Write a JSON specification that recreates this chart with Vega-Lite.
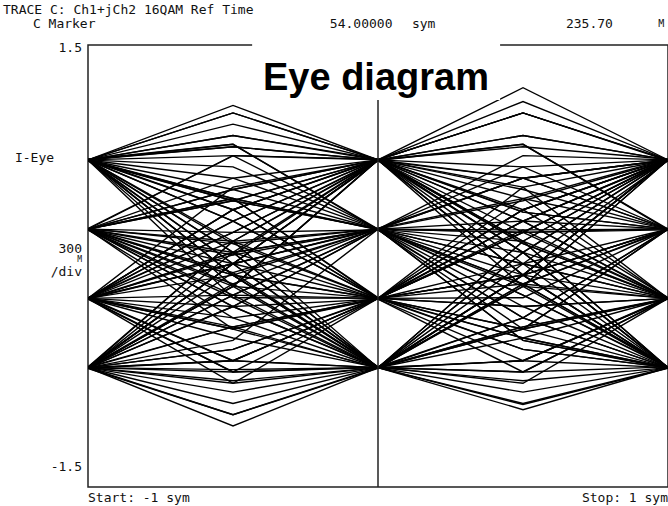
{
  "$schema": "https://vega.github.io/schema/vega-lite/v6.json",
  "width": 580,
  "height": 442,
  "autosize": {"type": "none"},
  "padding": {"left": 88, "top": 45, "right": 0, "bottom": 19},
  "background": "white",
  "config": {"view": {"stroke": "#222", "strokeWidth": 1.5}},
  "datasets": {
    "traces": [
      {"t":1,"x":-1,"y":0.72},{"t":1,"x":-0.5,"y":0.963},{"t":1,"x":0,"y":0.72},{"t":1,"x":0.5,"y":-0.062},{"t":1,"x":1,"y":-0.69},
      {"t":2,"x":-1,"y":0.725},{"t":2,"x":-0.5,"y":0.382},{"t":2,"x":0,"y":-0.22},{"t":2,"x":0.5,"y":-0.215},{"t":2,"x":1,"y":0.25},
      {"t":3,"x":-1,"y":-0.215},{"t":3,"x":-0.5,"y":0.228},{"t":3,"x":0,"y":0.72},{"t":3,"x":0.5,"y":1.039},{"t":3,"x":1,"y":0.715},
      {"t":4,"x":-1,"y":-0.69},{"t":4,"x":-0.5,"y":-1.009},{"t":4,"x":0,"y":-0.695},{"t":4,"x":0.5,"y":-0.122},{"t":4,"x":1,"y":0.25},
      {"t":5,"x":-1,"y":0.25},{"t":5,"x":-0.5,"y":0.092},{"t":5,"x":0,"y":-0.225},{"t":5,"x":0.5,"y":-0.719},{"t":5,"x":1,"y":-0.685},
      {"t":6,"x":-1,"y":-0.22},{"t":6,"x":-0.5,"y":0.015},{"t":6,"x":0,"y":0.255},{"t":6,"x":0.5,"y":0.596},{"t":6,"x":1,"y":0.72},
      {"t":7,"x":-1,"y":0.245},{"t":7,"x":-0.5,"y":-0.352},{"t":7,"x":0,"y":-0.69},{"t":7,"x":0.5,"y":-0.489},{"t":7,"x":1,"y":-0.22},
      {"t":8,"x":-1,"y":0.72},{"t":8,"x":-0.5,"y":0.749},{"t":8,"x":0,"y":0.25},{"t":8,"x":0.5,"y":-0.505},{"t":8,"x":1,"y":-0.695},
      {"t":9,"x":-1,"y":-0.685},{"t":9,"x":-0.5,"y":0.015},{"t":9,"x":0,"y":0.72},{"t":9,"x":0.5,"y":0.382},{"t":9,"x":1,"y":-0.215},
      {"t":10,"x":-1,"y":-0.69},{"t":10,"x":-0.5,"y":-0.566},{"t":10,"x":0,"y":-0.22},{"t":10,"x":0.5,"y":0.458},{"t":10,"x":1,"y":0.725},
      {"t":11,"x":-1,"y":-0.22},{"t":11,"x":-0.5,"y":-0.719},{"t":11,"x":0,"y":-0.685},{"t":11,"x":0.5,"y":-0.352},{"t":11,"x":1,"y":0.25},
      {"t":12,"x":-1,"y":0.255},{"t":12,"x":-0.5,"y":0.749},{"t":12,"x":0,"y":0.725},{"t":12,"x":0.5,"y":0.092},{"t":12,"x":1,"y":-0.69},
      {"t":13,"x":-1,"y":-0.69},{"t":13,"x":-0.5,"y":-0.275},{"t":13,"x":0,"y":0.25},{"t":13,"x":0.5,"y":0.015},{"t":13,"x":1,"y":-0.22},
      {"t":14,"x":-1,"y":0.715},{"t":14,"x":-0.5,"y":0.015},{"t":14,"x":0,"y":-0.69},{"t":14,"x":0.5,"y":-0.975},{"t":14,"x":1,"y":-0.69},
      {"t":15,"x":-1,"y":0.25},{"t":15,"x":-0.5,"y":0.749},{"t":15,"x":0,"y":0.72},{"t":15,"x":0.5,"y":0.305},{"t":15,"x":1,"y":-0.225},
      {"t":16,"x":-1,"y":-0.695},{"t":16,"x":-0.5,"y":-0.643},{"t":16,"x":0,"y":-0.22},{"t":16,"x":0.5,"y":0.535},{"t":16,"x":1,"y":0.72},
      {"t":17,"x":-1,"y":0.25},{"t":17,"x":-0.5,"y":0.228},{"t":17,"x":0,"y":0.245},{"t":17,"x":0.5,"y":-0.138},{"t":17,"x":1,"y":-0.22},
      {"t":18,"x":-1,"y":-0.225},{"t":18,"x":-0.5,"y":-0.719},{"t":18,"x":0,"y":-0.69},{"t":18,"x":0.5,"y":-0.062},{"t":18,"x":1,"y":0.72},
      {"t":19,"x":-1,"y":0.72},{"t":19,"x":-0.5,"y":0.673},{"t":19,"x":0,"y":0.25},{"t":19,"x":0.5,"y":0.228},{"t":19,"x":1,"y":0.255},
      {"t":20,"x":-1,"y":-0.69},{"t":20,"x":-0.5,"y":0.168},{"t":20,"x":0,"y":0.715},{"t":20,"x":0.5,"y":0.092},{"t":20,"x":1,"y":-0.69},
      {"t":21,"x":-1,"y":-0.22},{"t":21,"x":-0.5,"y":0.015},{"t":21,"x":0,"y":0.25},{"t":21,"x":0.5,"y":-0.122},{"t":21,"x":1,"y":-0.685},
      {"t":22,"x":-1,"y":0.72},{"t":22,"x":-0.5,"y":-0.062},{"t":22,"x":0,"y":-0.69},{"t":22,"x":0.5,"y":-0.352},{"t":22,"x":1,"y":0.25},
      {"t":23,"x":-1,"y":-0.215},{"t":23,"x":-0.5,"y":-0.413},{"t":23,"x":0,"y":-0.695},{"t":23,"x":0.5,"y":-0.643},{"t":23,"x":1,"y":-0.22},
      {"t":24,"x":-1,"y":0.25},{"t":24,"x":-0.5,"y":-0.062},{"t":24,"x":0,"y":-0.22},{"t":24,"x":0.5,"y":0.228},{"t":24,"x":1,"y":0.72},
      {"t":25,"x":-1,"y":-0.69},{"t":25,"x":-0.5,"y":-0.138},{"t":25,"x":0,"y":0.72},{"t":25,"x":0.5,"y":0.826},{"t":25,"x":1,"y":0.245},
      {"t":26,"x":-1,"y":-0.22},{"t":26,"x":-0.5,"y":0.382},{"t":26,"x":0,"y":0.725},{"t":26,"x":0.5,"y":0.092},{"t":26,"x":1,"y":-0.69},
      {"t":27,"x":-1,"y":0.72},{"t":27,"x":-0.5,"y":0.015},{"t":27,"x":0,"y":-0.685},{"t":27,"x":0.5,"y":-0.138},{"t":27,"x":1,"y":0.72},
      {"t":28,"x":-1,"y":-0.69},{"t":28,"x":-0.5,"y":-0.198},{"t":28,"x":0,"y":0.25},{"t":28,"x":0.5,"y":0.245},{"t":28,"x":1,"y":-0.22},
      {"t":29,"x":-1,"y":0.725},{"t":29,"x":-0.5,"y":0.809},{"t":29,"x":0,"y":0.72},{"t":29,"x":0.5,"y":0.152},{"t":29,"x":1,"y":-0.22},
      {"t":30,"x":-1,"y":0.25},{"t":30,"x":-0.5,"y":-0.428},{"t":30,"x":0,"y":-0.69},{"t":30,"x":0.5,"y":0.015},{"t":30,"x":1,"y":0.715},
      {"t":31,"x":-1,"y":-0.22},{"t":31,"x":-0.5,"y":0.382},{"t":31,"x":0,"y":0.72},{"t":31,"x":0.5,"y":0.519},{"t":31,"x":1,"y":0.25},
      {"t":32,"x":-1,"y":0.715},{"t":32,"x":-0.5,"y":0.458},{"t":32,"x":0,"y":-0.215},{"t":32,"x":0.5,"y":-0.566},{"t":32,"x":1,"y":-0.69},
      {"t":33,"x":-1,"y":-0.69},{"t":33,"x":-0.5,"y":-0.505},{"t":33,"x":0,"y":0.25},{"t":33,"x":0.5,"y":0.749},{"t":33,"x":1,"y":0.72},
      {"t":34,"x":-1,"y":0.72},{"t":34,"x":-0.5,"y":0.305},{"t":34,"x":0,"y":-0.22},{"t":34,"x":0.5,"y":-0.428},{"t":34,"x":1,"y":-0.225},
      {"t":35,"x":-1,"y":0.25},{"t":35,"x":-0.5,"y":-0.045},{"t":35,"x":0,"y":-0.69},{"t":35,"x":0.5,"y":-0.94},{"t":35,"x":1,"y":-0.695},
      {"t":36,"x":-1,"y":-0.225},{"t":36,"x":-0.5,"y":0.015},{"t":36,"x":0,"y":0.255},{"t":36,"x":0.5,"y":0.458},{"t":36,"x":1,"y":0.25},
      {"t":37,"x":-1,"y":-0.22},{"t":37,"x":-0.5,"y":0.305},{"t":37,"x":0,"y":0.72},{"t":37,"x":0.5,"y":0.015},{"t":37,"x":1,"y":-0.69},
      {"t":38,"x":-1,"y":-0.69},{"t":38,"x":-0.5,"y":-0.719},{"t":38,"x":0,"y":-0.22},{"t":38,"x":0.5,"y":0.305},{"t":38,"x":1,"y":0.72},
      {"t":39,"x":-1,"y":0.72},{"t":39,"x":-0.5,"y":0.826},{"t":39,"x":0,"y":0.245},{"t":39,"x":0.5,"y":-0.352},{"t":39,"x":1,"y":-0.69},
      {"t":40,"x":-1,"y":0.25},{"t":40,"x":-0.5,"y":-0.275},{"t":40,"x":0,"y":-0.69},{"t":40,"x":0.5,"y":-0.428},{"t":40,"x":1,"y":0.25},
      {"t":41,"x":-1,"y":0.245},{"t":41,"x":-0.5,"y":-0.215},{"t":41,"x":0,"y":-0.22},{"t":41,"x":0.5,"y":0.382},{"t":41,"x":1,"y":0.72},
      {"t":42,"x":-1,"y":-0.22},{"t":42,"x":-0.5,"y":0.228},{"t":42,"x":0,"y":0.715},{"t":42,"x":0.5,"y":0.596},{"t":42,"x":1,"y":0.25},
      {"t":43,"x":-1,"y":-0.685},{"t":43,"x":-0.5,"y":0.168},{"t":43,"x":0,"y":0.72},{"t":43,"x":0.5,"y":0.535},{"t":43,"x":1,"y":-0.22},
      {"t":44,"x":-1,"y":0.72},{"t":44,"x":-0.5,"y":-0.062},{"t":44,"x":0,"y":-0.69},{"t":44,"x":0.5,"y":-0.062},{"t":44,"x":1,"y":0.725},
      {"t":45,"x":-1,"y":-0.22},{"t":45,"x":-0.5,"y":-0.275},{"t":45,"x":0,"y":-0.225},{"t":45,"x":0.5,"y":-0.643},{"t":45,"x":1,"y":-0.69},
      {"t":46,"x":-1,"y":0.25},{"t":46,"x":-0.5,"y":0.443},{"t":46,"x":0,"y":0.72},{"t":46,"x":0.5,"y":0.886},{"t":46,"x":1,"y":0.72},
      {"t":47,"x":-1,"y":-0.69},{"t":47,"x":-0.5,"y":-0.045},{"t":47,"x":0,"y":0.25},{"t":47,"x":0.5,"y":-0.198},{"t":47,"x":1,"y":-0.685},
      {"t":48,"x":-1,"y":-0.22},{"t":48,"x":-0.5,"y":-0.489},{"t":48,"x":0,"y":-0.69},{"t":48,"x":0.5,"y":-0.643},{"t":48,"x":1,"y":-0.215},
      {"t":49,"x":-1,"y":0.72},{"t":49,"x":-0.5,"y":0.152},{"t":49,"x":0,"y":-0.22},{"t":49,"x":0.5,"y":0.015},{"t":49,"x":1,"y":0.25},
      {"t":50,"x":-1,"y":-0.695},{"t":50,"x":-0.5,"y":-1.009},{"t":50,"x":0,"y":-0.69},{"t":50,"x":0.5,"y":0.092},{"t":50,"x":1,"y":0.72},
      {"t":51,"x":-1,"y":0.25},{"t":51,"x":-0.5,"y":0.168},{"t":51,"x":0,"y":-0.22},{"t":51,"x":0.5,"y":-0.275},{"t":51,"x":1,"y":-0.22},
      {"t":52,"x":-1,"y":0.72},{"t":52,"x":-0.5,"y":0.886},{"t":52,"x":0,"y":0.725},{"t":52,"x":0.5,"y":0.366},{"t":52,"x":1,"y":0.25},
      {"t":53,"x":-1,"y":-0.69},{"t":53,"x":-0.5,"y":-0.566},{"t":53,"x":0,"y":-0.215},{"t":53,"x":0.5,"y":-0.489},{"t":53,"x":1,"y":-0.69},
      {"t":54,"x":-1,"y":0.715},{"t":54,"x":-0.5,"y":0.443},{"t":54,"x":0,"y":0.25},{"t":54,"x":0.5,"y":0.596},{"t":54,"x":1,"y":0.72},
      {"t":55,"x":-1,"y":-0.22},{"t":55,"x":-0.5,"y":0.535},{"t":55,"x":0,"y":0.72},{"t":55,"x":0.5,"y":-0.062},{"t":55,"x":1,"y":-0.69},
      {"t":56,"x":-1,"y":-0.69},{"t":56,"x":-0.5,"y":-0.856},{"t":56,"x":0,"y":-0.69},{"t":56,"x":0.5,"y":-0.122},{"t":56,"x":1,"y":0.245},
      {"t":57,"x":-1,"y":0.25},{"t":57,"x":-0.5,"y":0.519},{"t":57,"x":0,"y":0.72},{"t":57,"x":0.5,"y":0.305},{"t":57,"x":1,"y":-0.22},
      {"t":58,"x":-1,"y":-0.22},{"t":58,"x":-0.5,"y":0.092},{"t":58,"x":0,"y":0.25},{"t":58,"x":0.5,"y":-0.352},{"t":58,"x":1,"y":-0.69},
      {"t":59,"x":-1,"y":0.72},{"t":59,"x":-0.5,"y":0.168},{"t":59,"x":0,"y":-0.69},{"t":59,"x":0.5,"y":-0.719},{"t":59,"x":1,"y":-0.22},
      {"t":60,"x":-1,"y":0.25},{"t":60,"x":-0.5,"y":-0.062},{"t":60,"x":0,"y":-0.22},{"t":60,"x":0.5,"y":0.382},{"t":60,"x":1,"y":0.72},
      {"t":61,"x":-1,"y":0.72},{"t":61,"x":-0.5,"y":1.09},{"t":61,"x":0,"y":0.72},{"t":61,"x":0.5,"y":-0.138},{"t":61,"x":1,"y":-0.69},
      {"t":62,"x":-1,"y":-0.69},{"t":62,"x":-0.5,"y":-0.138},{"t":62,"x":0,"y":0.72},{"t":62,"x":0.5,"y":1.21},{"t":62,"x":1,"y":0.72},
      {"t":63,"x":-1,"y":-0.69},{"t":63,"x":-0.5,"y":-1.086},{"t":63,"x":0,"y":-0.69},{"t":63,"x":0.5,"y":0.092},{"t":63,"x":1,"y":0.72},
      {"t":64,"x":-1,"y":0.72},{"t":64,"x":-0.5,"y":-0.215},{"t":64,"x":0,"y":-0.695},{"t":64,"x":0.5,"y":-0.062},{"t":64,"x":1,"y":0.72},
      {"t":65,"x":-1,"y":-0.69},{"t":65,"x":-0.5,"y":0.015},{"t":65,"x":0,"y":0.715},{"t":65,"x":0.5,"y":0.826},{"t":65,"x":1,"y":0.25},
      {"t":66,"x":-1,"y":-0.22},{"t":66,"x":-0.5,"y":-0.428},{"t":66,"x":0,"y":-0.225},{"t":66,"x":0.5,"y":0.305},{"t":66,"x":1,"y":0.72},
      {"t":67,"x":-1,"y":0.725},{"t":67,"x":-0.5,"y":0.826},{"t":67,"x":0,"y":0.25},{"t":67,"x":0.5,"y":-0.505},{"t":67,"x":1,"y":-0.69},
      {"t":68,"x":-1,"y":-0.69},{"t":68,"x":-0.5,"y":-0.643},{"t":68,"x":0,"y":-0.22},{"t":68,"x":0.5,"y":-0.122},{"t":68,"x":1,"y":-0.22},
      {"t":69,"x":-1,"y":0.25},{"t":69,"x":-0.5,"y":0.519},{"t":69,"x":0,"y":0.72},{"t":69,"x":0.5,"y":0.809},{"t":69,"x":1,"y":0.725},
      {"t":70,"x":-1,"y":0.72},{"t":70,"x":-0.5,"y":0.382},{"t":70,"x":0,"y":-0.22},{"t":70,"x":0.5,"y":-0.566},{"t":70,"x":1,"y":-0.69},
      {"t":71,"x":-1,"y":-0.225},{"t":71,"x":-0.5,"y":0.092},{"t":71,"x":0,"y":0.25},{"t":71,"x":0.5,"y":0.228},{"t":71,"x":1,"y":0.245},
      {"t":72,"x":-1,"y":-0.69},{"t":72,"x":-0.5,"y":0.015},{"t":72,"x":0,"y":0.72},{"t":72,"x":0.5,"y":0.168},{"t":72,"x":1,"y":-0.69},
      {"t":73,"x":-1,"y":0.72},{"t":73,"x":-0.5,"y":0.092},{"t":73,"x":0,"y":-0.69},{"t":73,"x":0.5,"y":-0.719},{"t":73,"x":1,"y":-0.22},
      {"t":74,"x":-1,"y":0.255},{"t":74,"x":-0.5,"y":0.152},{"t":74,"x":0,"y":0.25},{"t":74,"x":0.5,"y":0.673},{"t":74,"x":1,"y":0.72},
      {"t":75,"x":-1,"y":-0.685},{"t":75,"x":-0.5,"y":-0.413},{"t":75,"x":0,"y":-0.22},{"t":75,"x":0.5,"y":-0.275},{"t":75,"x":1,"y":-0.22},
      {"t":76,"x":-1,"y":-0.22},{"t":76,"x":-0.5,"y":0.075},{"t":76,"x":0,"y":0.72},{"t":76,"x":0.5,"y":1.039},{"t":76,"x":1,"y":0.72},
      {"t":77,"x":-1,"y":-0.69},{"t":77,"x":-0.5,"y":-0.122},{"t":77,"x":0,"y":0.255},{"t":77,"x":0.5,"y":-0.198},{"t":77,"x":1,"y":-0.69},
      {"t":78,"x":-1,"y":0.72},{"t":78,"x":-0.5,"y":0.809},{"t":78,"x":0,"y":0.72},{"t":78,"x":0.5,"y":0.366},{"t":78,"x":1,"y":0.25},
      {"t":79,"x":-1,"y":0.25},{"t":79,"x":-0.5,"y":0.015},{"t":79,"x":0,"y":-0.22},{"t":79,"x":0.5,"y":0.305},{"t":79,"x":1,"y":0.715},
      {"t":80,"x":-1,"y":-0.22},{"t":80,"x":-0.5,"y":-0.643},{"t":80,"x":0,"y":-0.69},{"t":80,"x":0.5,"y":-0.413},{"t":80,"x":1,"y":-0.225},
      {"t":81,"x":-1,"y":0.25},{"t":81,"x":-0.5,"y":0.458},{"t":81,"x":0,"y":0.245},{"t":81,"x":0.5,"y":-0.428},{"t":81,"x":1,"y":-0.69},
      {"t":82,"x":-1,"y":-0.69},{"t":82,"x":-0.5,"y":-0.779},{"t":82,"x":0,"y":-0.69},{"t":82,"x":0.5,"y":-0.779},{"t":82,"x":1,"y":-0.69},
      {"t":83,"x":-1,"y":0.72},{"t":83,"x":-0.5,"y":0.305},{"t":83,"x":0,"y":-0.22},{"t":83,"x":0.5,"y":0.228},{"t":83,"x":1,"y":0.72},
      {"t":84,"x":-1,"y":0.25},{"t":84,"x":-0.5,"y":0.443},{"t":84,"x":0,"y":0.72},{"t":84,"x":0.5,"y":0.673},{"t":84,"x":1,"y":0.25},
      {"t":85,"x":-1,"y":-0.215},{"t":85,"x":-0.5,"y":-0.643},{"t":85,"x":0,"y":-0.69},{"t":85,"x":0.5,"y":-0.062},{"t":85,"x":1,"y":0.72},
      {"t":86,"x":-1,"y":-0.69},{"t":86,"x":-0.5,"y":-0.138},{"t":86,"x":0,"y":0.72},{"t":86,"x":0.5,"y":1.039},{"t":86,"x":1,"y":0.72},
      {"t":87,"x":-1,"y":0.25},{"t":87,"x":-0.5,"y":0.458},{"t":87,"x":0,"y":0.25},{"t":87,"x":0.5,"y":0.092},{"t":87,"x":1,"y":-0.22},
      {"t":88,"x":-1,"y":0.72},{"t":88,"x":-0.5,"y":-0.062},{"t":88,"x":0,"y":-0.685},{"t":88,"x":0.5,"y":-0.796},{"t":88,"x":1,"y":-0.22},
      {"t":89,"x":-1,"y":-0.69},{"t":89,"x":-0.5,"y":-0.413},{"t":89,"x":0,"y":-0.22},{"t":89,"x":0.5,"y":-0.489},{"t":89,"x":1,"y":-0.69},
      {"t":90,"x":-1,"y":-0.22},{"t":90,"x":-0.5,"y":0.305},{"t":90,"x":0,"y":0.72},{"t":90,"x":0.5,"y":0.228},{"t":90,"x":1,"y":-0.22},
      {"t":91,"x":-1,"y":0.72},{"t":91,"x":-0.5,"y":0.886},{"t":91,"x":0,"y":0.72},{"t":91,"x":0.5,"y":0.886},{"t":91,"x":1,"y":0.72},
      {"t":92,"x":-1,"y":0.25},{"t":92,"x":-0.5,"y":-0.138},{"t":92,"x":0,"y":-0.22},{"t":92,"x":0.5,"y":-0.062},{"t":92,"x":1,"y":0.25},
      {"t":93,"x":-1,"y":-0.69},{"t":93,"x":-0.5,"y":-0.933},{"t":93,"x":0,"y":-0.69},{"t":93,"x":0.5,"y":0.168},{"t":93,"x":1,"y":0.72},
      {"t":94,"x":-1,"y":0.72},{"t":94,"x":-0.5,"y":0.596},{"t":94,"x":0,"y":0.25},{"t":94,"x":0.5,"y":0.015},{"t":94,"x":1,"y":-0.22},
      {"t":95,"x":-1,"y":-0.22},{"t":95,"x":-0.5,"y":-0.198},{"t":95,"x":0,"y":-0.22},{"t":95,"x":0.5,"y":-0.062},{"t":95,"x":1,"y":0.25},
      {"t":96,"x":-1,"y":-0.69},{"t":96,"x":-0.5,"y":-0.275},{"t":96,"x":0,"y":0.25},{"t":96,"x":0.5,"y":-0.275},{"t":96,"x":1,"y":-0.69},
      {"t":97,"x":-1,"y":0.72},{"t":97,"x":-0.5,"y":1.039},{"t":97,"x":0,"y":0.72},{"t":97,"x":0.5,"y":-0.062},{"t":97,"x":1,"y":-0.69},
      {"t":98,"x":-1,"y":0.25},{"t":98,"x":-0.5,"y":-0.275},{"t":98,"x":0,"y":-0.69},{"t":98,"x":0.5,"y":-0.643},{"t":98,"x":1,"y":-0.22},
      {"t":99,"x":-1,"y":-0.69},{"t":99,"x":-0.5,"y":0.015},{"t":99,"x":0,"y":0.72},{"t":99,"x":0.5,"y":1.116},{"t":99,"x":1,"y":0.72},
      {"t":100,"x":-1,"y":-0.22},{"t":100,"x":-0.5,"y":-0.062},{"t":100,"x":0,"y":0.25},{"t":100,"x":0.5,"y":-0.062},{"t":100,"x":1,"y":-0.22},
      {"t":101,"x":-1,"y":0.25},{"t":101,"x":-0.5,"y":-0.122},{"t":101,"x":0,"y":-0.69},{"t":101,"x":0.5,"y":-0.856},{"t":101,"x":1,"y":-0.69},
      {"t":102,"x":-1,"y":-0.69},{"t":102,"x":-0.5,"y":-0.643},{"t":102,"x":0,"y":-0.22},{"t":102,"x":0.5,"y":0.245},{"t":102,"x":1,"y":0.25},
      {"t":103,"x":-1,"y":0.72},{"t":103,"x":-0.5,"y":0.458},{"t":103,"x":0,"y":-0.22},{"t":103,"x":0.5,"y":-0.428},{"t":103,"x":1,"y":-0.22},
      {"t":104,"x":-1,"y":0.25},{"t":104,"x":-0.5,"y":0.075},{"t":104,"x":0,"y":0.25},{"t":104,"x":0.5,"y":0.443},{"t":104,"x":1,"y":0.72},
      {"t":105,"x":-1,"y":-0.22},{"t":105,"x":-0.5,"y":0.382},{"t":105,"x":0,"y":0.72},{"t":105,"x":0.5,"y":0.458},{"t":105,"x":1,"y":-0.22},
      {"t":106,"x":-1,"y":0.72},{"t":106,"x":-0.5,"y":-0.138},{"t":106,"x":0,"y":-0.69},{"t":106,"x":0.5,"y":-0.138},{"t":106,"x":1,"y":0.72},
      {"t":107,"x":-1,"y":-0.69},{"t":107,"x":-0.5,"y":-0.703},{"t":107,"x":0,"y":-0.69},{"t":107,"x":0.5,"y":-0.413},{"t":107,"x":1,"y":-0.22},
      {"t":108,"x":-1,"y":-0.22},{"t":108,"x":-0.5,"y":-0.428},{"t":108,"x":0,"y":-0.22},{"t":108,"x":0.5,"y":-0.062},{"t":108,"x":1,"y":0.25},
      {"t":109,"x":-1,"y":0.72},{"t":109,"x":-0.5,"y":0.519},{"t":109,"x":0,"y":0.25},{"t":109,"x":0.5,"y":0.596},{"t":109,"x":1,"y":0.72},
      {"t":110,"x":-1,"y":-0.69},{"t":110,"x":-0.5,"y":0.092},{"t":110,"x":0,"y":0.72},{"t":110,"x":0.5,"y":0.168},{"t":110,"x":1,"y":-0.69},
      {"t":111,"x":-1,"y":0.25},{"t":111,"x":-0.5,"y":-0.198},{"t":111,"x":0,"y":-0.69},{"t":111,"x":0.5,"y":-0.428},{"t":111,"x":1,"y":0.25},
      {"t":112,"x":-1,"y":0.72},{"t":112,"x":-0.5,"y":0.443},{"t":112,"x":0,"y":0.25},{"t":112,"x":0.5,"y":0.305},{"t":112,"x":1,"y":0.25},
      {"t":113,"x":-1,"y":-0.22},{"t":113,"x":-0.5,"y":-0.352},{"t":113,"x":0,"y":-0.22},{"t":113,"x":0.5,"y":0.228},{"t":113,"x":1,"y":0.72},
      {"t":114,"x":-1,"y":-0.69},{"t":114,"x":-0.5,"y":-0.198},{"t":114,"x":0,"y":0.25},{"t":114,"x":0.5,"y":-0.122},{"t":114,"x":1,"y":-0.69},
      {"t":115,"x":-1,"y":0.72},{"t":115,"x":-0.5,"y":1.039},{"t":115,"x":0,"y":0.72},{"t":115,"x":0.5,"y":0.152},{"t":115,"x":1,"y":-0.22},
      {"t":116,"x":-1,"y":-0.22},{"t":116,"x":-0.5,"y":-0.796},{"t":116,"x":0,"y":-0.69},{"t":116,"x":0.5,"y":0.168},{"t":116,"x":1,"y":0.72},
      {"t":117,"x":-1,"y":0.25},{"t":117,"x":-0.5,"y":0.596},{"t":117,"x":0,"y":0.72},{"t":117,"x":0.5,"y":0.596},{"t":117,"x":1,"y":0.25},
      {"t":118,"x":-1,"y":0.72},{"t":118,"x":-0.5,"y":0.092},{"t":118,"x":0,"y":-0.69},{"t":118,"x":0.5,"y":-0.933},{"t":118,"x":1,"y":-0.69},
      {"t":119,"x":-1,"y":-0.22},{"t":119,"x":-0.5,"y":0.168},{"t":119,"x":0,"y":0.25},{"t":119,"x":0.5,"y":0.168},{"t":119,"x":1,"y":-0.22},
      {"t":120,"x":-1,"y":-0.69},{"t":120,"x":-0.5,"y":-0.796},{"t":120,"x":0,"y":-0.22},{"t":120,"x":0.5,"y":0.382},{"t":120,"x":1,"y":0.72}
    ]
  },
  "layer": [
    {
      "data": {"name": "traces"},
      "mark": {"type": "line", "color": "black", "strokeWidth": 1.4, "clip": true},
      "encoding": {
        "x": {"field": "x", "type": "quantitative", "scale": {"domain": [-1, 1], "nice": false, "zero": false}, "axis": null},
        "y": {"field": "y", "type": "quantitative", "scale": {"domain": [-1.5, 1.5], "nice": false, "zero": false},
              "axis": {"values": [-1.2, -0.9, -0.6, -0.3, 0, 0.3, 0.6, 0.9, 1.2], "grid": true, "gridColor": "#333", "gridWidth": 1.5, "labels": false, "ticks": false, "domain": false, "title": null}},
        "detail": {"field": "t", "type": "nominal"}
      }
    },
    {
      "data": {"values": [{}]},
      "mark": {"type": "rule", "color": "#222", "strokeWidth": 1.5},
      "encoding": {"x": {"datum": 0, "axis": null}}
    },
    {
      "data": {"values": [{}]},
      "mark": {"type": "rect", "fill": "white"},
      "encoding": {
        "x": {"datum": -0.434, "axis": null}, "x2": {"datum": 0.421},
        "y": {"datum": 1.56, "axis": null}, "y2": {"datum": 1.127}
      }
    },
    {
      "data": {"values": [{"label": "Eye diagram"}]},
      "mark": {"type": "text", "font": "Liberation Sans", "fontWeight": "bold", "fontSize": 38, "align": "center", "baseline": "alphabetic", "color": "black"},
      "encoding": {"x": {"datum": -0.007, "axis": null}, "y": {"datum": 1.195, "axis": null}, "text": {"field": "label"}}
    },
    {
      "data": {"values": [{"label": "TRACE C: Ch1+jCh2 16QAM Ref Time"}]},
      "mark": {"type": "text", "font": "DejaVu Sans Mono", "fontSize": 13, "align": "left", "baseline": "middle", "color": "#111"},
      "encoding": {"x": {"datum": -1.293, "axis": null}, "y": {"datum": 1.7376, "axis": null}, "text": {"field": "label"}}
    },
    {
      "data": {"values": [{"label": "C Marker"}]},
      "mark": {"type": "text", "font": "DejaVu Sans Mono", "fontSize": 13, "align": "left", "baseline": "middle", "color": "#111"},
      "encoding": {"x": {"datum": -1.19, "axis": null}, "y": {"datum": 1.6425, "axis": null}, "text": {"field": "label"}}
    },
    {
      "data": {"values": [{"label": "54.00000"}]},
      "mark": {"type": "text", "font": "DejaVu Sans Mono", "fontSize": 13, "align": "left", "baseline": "middle", "color": "#111"},
      "encoding": {"x": {"datum": -0.166, "axis": null}, "y": {"datum": 1.6425, "axis": null}, "text": {"field": "label"}}
    },
    {
      "data": {"values": [{"label": "sym"}]},
      "mark": {"type": "text", "font": "DejaVu Sans Mono", "fontSize": 13, "align": "left", "baseline": "middle", "color": "#111"},
      "encoding": {"x": {"datum": 0.117, "axis": null}, "y": {"datum": 1.6425, "axis": null}, "text": {"field": "label"}}
    },
    {
      "data": {"values": [{"label": "235.70"}]},
      "mark": {"type": "text", "font": "DejaVu Sans Mono", "fontSize": 13, "align": "left", "baseline": "middle", "color": "#111"},
      "encoding": {"x": {"datum": 0.648, "axis": null}, "y": {"datum": 1.6425, "axis": null}, "text": {"field": "label"}}
    },
    {
      "data": {"values": [{"label": "M"}]},
      "mark": {"type": "text", "font": "DejaVu Sans Mono", "fontSize": 10, "align": "left", "baseline": "middle", "color": "#111"},
      "encoding": {"x": {"datum": 0.966, "axis": null}, "y": {"datum": 1.6425, "axis": null}, "text": {"field": "label"}}
    },
    {
      "data": {"values": [{"label": "1.5"}]},
      "mark": {"type": "text", "font": "DejaVu Sans Mono", "fontSize": 13, "align": "right", "baseline": "middle", "color": "#111"},
      "encoding": {"x": {"datum": -1.0207, "axis": null}, "y": {"datum": 1.48, "axis": null}, "text": {"field": "label"}}
    },
    {
      "data": {"values": [{"label": "I-Eye"}]},
      "mark": {"type": "text", "font": "DejaVu Sans Mono", "fontSize": 13, "align": "left", "baseline": "middle", "color": "#111"},
      "encoding": {"x": {"datum": -1.252, "axis": null}, "y": {"datum": 0.733, "axis": null}, "text": {"field": "label"}}
    },
    {
      "data": {"values": [{"label": "300"}]},
      "mark": {"type": "text", "font": "DejaVu Sans Mono", "fontSize": 13, "align": "right", "baseline": "middle", "color": "#111"},
      "encoding": {"x": {"datum": -1.0207, "axis": null}, "y": {"datum": 0.1154, "axis": null}, "text": {"field": "label"}}
    },
    {
      "data": {"values": [{"label": "M"}]},
      "mark": {"type": "text", "font": "DejaVu Sans Mono", "fontSize": 8, "align": "right", "baseline": "middle", "color": "#111"},
      "encoding": {"x": {"datum": -1.0207, "axis": null}, "y": {"datum": 0.0407, "axis": null}, "text": {"field": "label"}}
    },
    {
      "data": {"values": [{"label": "/div"}]},
      "mark": {"type": "text", "font": "DejaVu Sans Mono", "fontSize": 13, "align": "right", "baseline": "middle", "color": "#111"},
      "encoding": {"x": {"datum": -1.0207, "axis": null}, "y": {"datum": -0.0407, "axis": null}, "text": {"field": "label"}}
    },
    {
      "data": {"values": [{"label": "-1.5"}]},
      "mark": {"type": "text", "font": "DejaVu Sans Mono", "fontSize": 13, "align": "right", "baseline": "middle", "color": "#111"},
      "encoding": {"x": {"datum": -1.0207, "axis": null}, "y": {"datum": -1.364, "axis": null}, "text": {"field": "label"}}
    },
    {
      "data": {"values": [{"label": "Start: -1 sym"}]},
      "mark": {"type": "text", "font": "DejaVu Sans Mono", "fontSize": 13, "align": "left", "baseline": "middle", "color": "#111"},
      "encoding": {"x": {"datum": -1.0, "axis": null}, "y": {"datum": -1.575, "axis": null}, "text": {"field": "label"}}
    },
    {
      "data": {"values": [{"label": "Stop: 1 sym"}]},
      "mark": {"type": "text", "font": "DejaVu Sans Mono", "fontSize": 13, "align": "right", "baseline": "middle", "color": "#111"},
      "encoding": {"x": {"datum": 1.0, "axis": null}, "y": {"datum": -1.575, "axis": null}, "text": {"field": "label"}}
    }
  ]
}
